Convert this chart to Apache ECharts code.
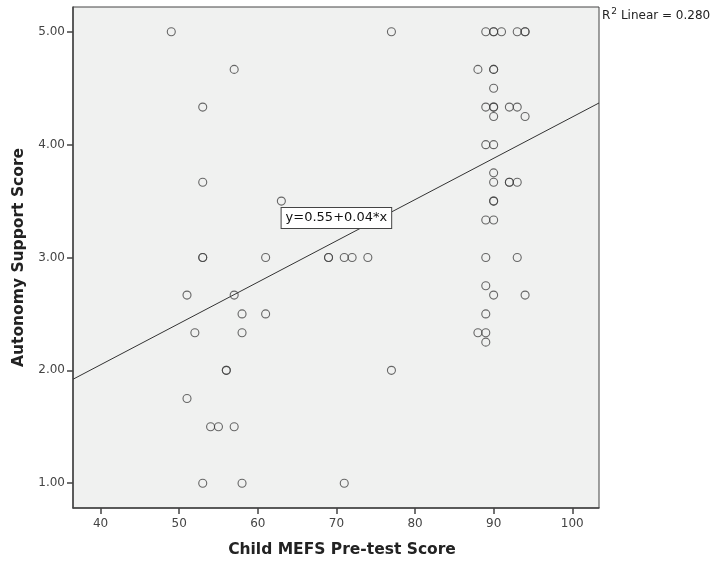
<!DOCTYPE html>
<html>
<head>
<meta charset="utf-8">
<script src="https://cdn.jsdelivr.net/npm/echarts@6/dist/echarts.min.js"></script>
<style>
html,body{margin:0;padding:0;background:#fff;}
#chart{width:711px;height:563px;}
</style>
</head>
<body>
<div id="chart"></div>
<script>
// Child MEFS Pre-test Score (x) and Autonomy Support Score (y)
var mefsScores = [49, 57, 53, 53, 63, 53, 53, 61,
  77, 89, 90, 90, 91, 93, 94, 94,
  88, 90, 90, 90, 89, 90, 90, 92, 93, 90, 94,
  89, 90, 90, 90, 92, 92, 93, 90, 90, 89, 90,
  69, 69, 71, 72, 74, 89, 93,
  51, 57, 58, 61, 52, 58, 56, 56, 51, 54, 55, 57, 53, 58,
  89, 90, 94, 89, 88, 89, 89, 77, 71];
var autonomyScores = [5.00, 4.667, 4.333, 3.667, 3.5, 3.0, 3.0, 3.0,
  5.00, 5.00, 5.00, 5.00, 5.00, 5.00, 5.00, 5.00,
  4.667, 4.667, 4.667, 4.5, 4.333, 4.333, 4.333, 4.333, 4.333, 4.25, 4.25,
  4.0, 4.0, 3.75, 3.667, 3.667, 3.667, 3.667, 3.5, 3.5, 3.333, 3.333,
  3.0, 3.0, 3.0, 3.0, 3.0, 3.0, 3.0,
  2.667, 2.667, 2.5, 2.5, 2.333, 2.333, 2.0, 2.0, 1.75, 1.5, 1.5, 1.5, 1.0, 1.0,
  2.75, 2.667, 2.667, 2.5, 2.333, 2.333, 2.25, 2.0, 1.0];
var xTicks = [40, 50, 60, 70, 80, 90, 100];
var yTicks = [1, 2, 3, 4, 5];
var xRange = [36.5, 103.4];
var yRange = [0.78, 5.22];
var fitIntercept = 0.585;
var fitSlope = 0.0366;
var fitLabel = 'y=0.55+0.04*x';
var fitLabelAt = [70, 3.35];
var r2Text = '0.280';

var points = mefsScores.map(function (x, i) { return [x, autonomyScores[i]]; });
var fitLine = xRange.map(function (x) { return [x, fitIntercept + fitSlope * x]; });

var chart = echarts.init(document.getElementById('chart'));
var txt = '#444';
chart.setOption({
  backgroundColor: '#fff',
  animation: false,
  grid: {left: 73, right: 112, top: 7, bottom: 54, show: true, backgroundColor: '#F0F1F0', borderColor: '#444', borderWidth: 1},
  xAxis: {
    type: 'value', min: xRange[0], max: xRange[1],
    name: 'Child MEFS Pre-test Score', nameLocation: 'middle', nameGap: 34,
    nameTextStyle: {fontFamily: 'DejaVu Sans', fontWeight: 'bold', fontSize: 15.5, color: '#222', padding: [0, 0, 0, 12]},
    axisLine: {show: true, lineStyle: {color: '#444', width: 1.5}},
    axisTick: {show: true, inside: false, length: 6, customValues: xTicks, lineStyle: {color: '#444', width: 1.5}},
    axisLabel: {customValues: xTicks, fontFamily: 'DejaVu Sans', fontSize: 12, color: txt, margin: 10},
    splitLine: {show: false}
  },
  yAxis: {
    type: 'value', min: yRange[0], max: yRange[1],
    name: 'Autonomy Support Score', nameLocation: 'middle', nameGap: 44, nameRotate: 90,
    nameTextStyle: {fontFamily: 'DejaVu Sans', fontWeight: 'bold', fontSize: 15.5, color: '#222'},
    axisLine: {show: true, lineStyle: {color: '#444', width: 1.5}},
    axisTick: {show: true, inside: false, length: 6, customValues: yTicks, lineStyle: {color: '#444', width: 1.5}},
    axisLabel: {customValues: yTicks, fontFamily: 'DejaVu Sans', fontSize: 12, color: txt, margin: 8,
      formatter: function (v) { return v.toFixed(2); }},
    splitLine: {show: false}
  },
  series: [
    {
      type: 'line', data: fitLine, symbol: 'none', silent: true, z: 1,
      lineStyle: {color: '#333', width: 1},
      markPoint: {
        symbol: 'rect', symbolSize: 0,
        data: [{coord: fitLabelAt}],
        label: {show: true, position: 'inside', formatter: fitLabel, fontFamily: 'DejaVu Sans', fontSize: 13,
          color: '#111', backgroundColor: '#fff', borderColor: '#444', borderWidth: 1, padding: [4, 4, 3, 4]}
      }
    },
    {
      type: 'scatter', data: points, symbol: 'circle', symbolSize: 8, z: 3,
      itemStyle: {color: 'rgba(0,0,0,0)', borderColor: '#444', borderWidth: 1.1}
    }
  ],
  graphic: [{
    type: 'text', left: 602, top: 7,
    style: {
      text: '{r|R}{s|2}{r| Linear = ' + r2Text + '}',
      rich: {
        r: {fontFamily: 'DejaVu Sans', fontSize: 12, fill: '#222', verticalAlign: 'bottom'},
        s: {fontFamily: 'DejaVu Sans', fontSize: 9, fill: '#222', verticalAlign: 'top', padding: [0, 0, 6, 1]}
      }
    }
  }]
});
</script>
</body>
</html>
